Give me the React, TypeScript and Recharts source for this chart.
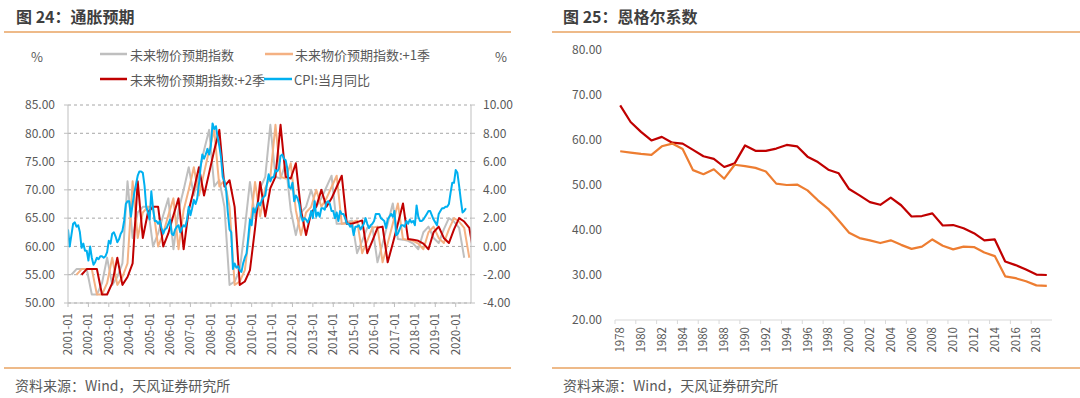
import React from 'react';
import { LineChart, Line, XAxis, YAxis, CartesianGrid } from 'recharts';

// ---------------- data: 图24 通胀预期 ----------------
const MONTH_TICK_LABELS = [
  '2001-01', '2002-01', '2003-01', '2004-01', '2005-01', '2006-01', '2007-01',
  '2008-01', '2009-01', '2010-01', '2011-01', '2012-01', '2013-01', '2014-01',
  '2015-01', '2016-01', '2017-01', '2018-01', '2019-01', '2020-01',
];

// CPI 当月同比, monthly from 2001-01
const CPI_YOY = [
  1.2, 0.0, 0.8, 1.6, 1.7, 1.4, 1.5, 1.0, -0.1, 0.2, -0.3, -0.3,
  -1.0, 0.0, -0.8, -1.3, -1.1, -0.8, -0.9, -0.7, -0.7, -0.8, -0.7, -0.4,
  0.4, 0.2, 0.9, 1.0, 0.7, 0.3, 0.5, 0.9, 1.1, 1.8, 3.0, 3.2,
  3.2, 2.1, 3.0, 3.8, 4.4, 5.0, 5.3, 5.3, 5.2, 4.3, 2.8, 2.4,
  1.9, 3.9, 2.7, 1.8, 1.8, 1.6, 1.8, 1.3, 0.9, 1.2, 1.3, 1.6,
  1.9, 0.9, 0.8, 1.2, 1.4, 1.5, 1.0, 1.3, 1.5, 1.4, 1.9, 2.8,
  2.2, 2.7, 3.3, 3.0, 3.4, 4.4, 5.6, 6.5, 6.2, 6.5, 6.9, 6.5,
  7.1, 8.7, 8.3, 8.5, 7.7, 7.1, 6.3, 4.9, 4.6, 4.0, 2.4, 1.2,
  1.0, -1.6, -1.2, -1.5, -1.4, -1.7, -1.8, -1.2, -0.8, -0.5, 0.6, 1.9,
  1.5, 2.7, 2.4, 2.8, 3.1, 2.9, 3.3, 3.5, 3.6, 4.4, 5.1, 4.6,
  4.9, 4.9, 5.4, 5.3, 5.5, 6.4, 6.5, 6.2, 6.1, 5.5, 4.2, 4.1,
  4.5, 3.2, 3.6, 3.4, 3.0, 2.2, 1.8, 2.0, 1.9, 1.7, 2.0, 2.5,
  2.0, 3.2, 2.1, 2.4, 2.1, 2.7, 2.7, 2.6, 3.1, 3.2, 3.0, 2.5,
  2.5, 2.0, 2.4, 1.8, 2.5, 2.3, 2.3, 2.0, 1.6, 1.6, 1.4, 1.5,
  0.8, 1.4, 1.4, 1.5, 1.2, 1.4, 1.6, 2.0, 1.6, 1.3, 1.5, 1.6,
  1.8, 2.3, 2.3, 2.3, 2.0, 1.9, 1.8, 1.3, 1.9, 2.1, 2.3, 2.1,
  2.5, 0.8, 0.9, 1.2, 1.5, 1.5, 1.4, 1.8, 1.6, 1.9, 1.7, 1.8,
  1.5, 2.9, 2.1, 1.8, 1.8, 1.9, 2.1, 2.3, 2.5, 2.5, 2.2, 1.9,
  1.7, 1.5, 2.3, 2.5, 2.7, 2.7, 2.8, 2.8, 3.0, 3.8, 4.5, 4.5,
  5.4, 5.2, 4.3, 3.3, 2.4, 2.5, 2.7,
];

// 未来物价预期指数, quarterly 2001Q1 .. 2020Q2
const EXPECT_INDEX = [
  55, 56, 56, 56, 51.5, 51.5, 53.5, 58, 53.2, 54.6, 57, 71.5,
  61.5, 66, 67, 67, 60, 62.3, 65.5, 68.5, 59.5, 66.4, 70, 74,
  69, 73, 77, 80.6, 70.6, 71.7, 67, 53.2, 53.8, 55.8, 63.2, 71.4,
  65.3, 70.3, 72.3, 81.5, 72.3, 72, 74.7, 66.4, 62, 66, 67, 70,
  67, 68.5, 70.5, 72.5, 64, 64, 64.3, 64.6, 58.8, 61, 63.3, 63.5,
  57.2, 60.5, 64, 67.6, 61.3, 61.2, 61, 60.5, 59.5, 62.5, 63.5, 61.5,
  60.6, 63, 65, 64.4, 63.3, 58,
];
// 未来物价预期指数:+1季
const EXPECT_INDEX_1Q = [
  55, 56, 56, 56, 51.5, 51.5, 53.5, 58, 53.2, 54.6, 57, 71.5,
  61.5, 66, 67, 67, 60, 62.3, 65.5, 68.5, 59.5, 66.4, 70, 74,
  69, 73, 77, 80.6, 70.6, 71.7, 67, 53.2, 53.8, 55.8, 63.2, 71.4,
  65.3, 70.3, 72.3, 81.5, 72.3, 72, 74.7, 66.4, 62, 66, 67, 70,
  67, 68.5, 70.5, 72.5, 64, 64, 64.3, 64.6, 58.8, 61, 63.3, 63.5,
  57.2, 60.5, 64, 67.6, 61.3, 61.2, 61, 60.5, 59.5, 62.5, 63.5, 61.5,
  60.6, 63, 65, 64.4, 63.3, 58,
];
// 未来物价预期指数:+2季
const EXPECT_INDEX_2Q = [
  55, 56, 56, 56, 51.5, 51.5, 53.5, 58, 53.2, 54.6, 57, 71.5,
  61.5, 66, 67, 67, 60, 62.3, 65.5, 68.5, 59.5, 66.4, 70, 74,
  69, 73, 77, 80.6, 70.6, 71.7, 67, 53.2, 53.8, 55.8, 63.2, 71.4,
  65.3, 70.3, 72.3, 81.5, 72.3, 72, 74.7, 66.4, 62, 66, 67, 70,
  67, 68.5, 70.5, 72.5, 64, 64, 64.3, 64.6, 58.8, 61, 63.3, 63.5,
  57.2, 60.5, 64, 67.6, 61.3, 61.2, 61, 60.5, 59.5, 62.5, 63.5, 61.5,
  60.6, 63, 65, 64.4, 63.3, 58,
];
// month offsets from 2001-01 of each quarterly series' first point
const EXPECT_FIRST_MONTH = 2;    // 2001-03
const EXPECT_1Q_FIRST_MONTH = 5; // 2001-06
const EXPECT_2Q_FIRST_MONTH = 8; // 2001-09
const MONTH_AXIS_END = 237;       // 2020-10

const LEFT_TICKS = [50, 55, 60, 65, 70, 75, 80, 85];
const RIGHT_TICKS = [-4, -2, 0, 2, 4, 6, 8, 10];

// ---------------- data: 图25 恩格尔系数 ----------------
const ENGEL_YEARS = [
  1978, 1979, 1980, 1981, 1982, 1983, 1984, 1985, 1986, 1987, 1988, 1989, 1990, 1991,
  1992, 1993, 1994, 1995, 1996, 1997, 1998, 1999, 2000, 2001, 2002, 2003, 2004, 2005,
  2006, 2007, 2008, 2009, 2010, 2011, 2012, 2013, 2014, 2015, 2016, 2017, 2018, 2019,
];
const ENGEL_RURAL = [
  67.7, 64.0, 61.8, 59.9, 60.7, 59.4, 59.2, 57.8, 56.4, 55.8, 54.0, 54.8, 58.8, 57.6,
  57.6, 58.1, 58.9, 58.6, 56.3, 55.1, 53.4, 52.6, 49.1, 47.7, 46.2, 45.6, 47.2, 45.5,
  43.0, 43.1, 43.7, 41.0, 41.1, 40.4, 39.3, 37.7, 37.9, 33.0, 32.2, 31.2, 30.1, 30.0,
];
const ENGEL_URBAN = [
  57.5, 57.2, 56.9, 56.7, 58.6, 59.2, 58.0, 53.3, 52.4, 53.5, 51.4, 54.5, 54.2, 53.8,
  53.0, 50.3, 50.0, 50.1, 48.8, 46.6, 44.7, 42.1, 39.4, 38.2, 37.7, 37.1, 37.7, 36.7,
  35.8, 36.3, 37.9, 36.5, 35.7, 36.3, 36.2, 35.0, 34.2, 29.7, 29.3, 28.6, 27.7, 27.6,
];
const ENGEL_TICK_LABELS = [
  '1978', '1980', '1982', '1984', '1986', '1988', '1990', '1992', '1994', '1996', '1998',
  '2000', '2002', '2004', '2006', '2008', '2010', '2012', '2014', '2016', '2018',
];
const ENGEL_Y_TICKS = [20, 30, 40, 50, 60, 70, 80];

// ---------------- tables ----------------
type Row = { t: number; cpi?: number; e0?: number; e1?: number; e2?: number };
const rowMap: Record<number, Row> = {};
const put = (t: number, key: keyof Row, v: number) => {
  if (!rowMap[t]) rowMap[t] = { t };
  (rowMap[t] as any)[key] = v;
};
CPI_YOY.forEach((v, i) => put(i, 'cpi', v));
EXPECT_INDEX.forEach((v, k) => put(EXPECT_FIRST_MONTH + 3 * k, 'e0', v));
EXPECT_INDEX_1Q.forEach((v, k) => put(EXPECT_1Q_FIRST_MONTH + 3 * k, 'e1', v));
EXPECT_INDEX_2Q.forEach((v, k) => put(EXPECT_2Q_FIRST_MONTH + 3 * k, 'e2', v));
const leftData = Object.values(rowMap).sort((a, b) => a.t - b.t);
const monthTicks = MONTH_TICK_LABELS.map((_, i) => i * 12);

const engelData = ENGEL_YEARS.map((y, i) => ({ year: y, rural: ENGEL_RURAL[i], urban: ENGEL_URBAN[i] }));
const engelTicks = ENGEL_TICK_LABELS.map((s) => Number(s));

// ---------------- style ----------------
const FONT = '"Noto Sans CJK SC", "Noto Sans", sans-serif';
const TEXT = '#595959';
const AXIS = '#BFBFBF';
const ORANGE_RULE = '#E8A362';
const C_GRAY = '#BFBFBF';
const C_PEACH = '#F4B183';
const C_RED = '#C00000';
const C_BLUE = '#00B0F0';
const C_ORANGE = '#ED7D31';

const ENGEL_PLOT_W = 437;
const HALF_BAND = ENGEL_PLOT_W / ENGEL_YEARS.length / 2;

const MonthTick = (props: any) => {
  const { x, y, payload } = props;
  const label = MONTH_TICK_LABELS[Math.round(payload.value / 12)];
  return (
    <g transform={`translate(${x},${y})`}>
      <line x1={0} x2={0} y1={-10} y2={-6} stroke={AXIS} />
      <text transform="rotate(-90)" x={0} y={0} dy="0.35em" textAnchor="end" fontSize={11.5} fill={TEXT} fontFamily={FONT}>
        {label}
      </text>
    </g>
  );
};

const YearTick = (props: any) => {
  const { x, y, payload } = props;
  const idx = engelTicks.indexOf(payload.value);
  const label = ENGEL_TICK_LABELS[idx] ?? String(payload.value);
  return (
    <g transform={`translate(${x},${y})`}>
      <line x1={-HALF_BAND} x2={-HALF_BAND} y1={-7} y2={-3} stroke="#D9D9D9" />
      <text transform="rotate(-90)" x={0} y={0} dy="0.35em" textAnchor="end" fontSize={11.5} fill={TEXT} fontFamily={FONT}>
        {label}
      </text>
    </g>
  );
};

const fmt2 = (v: number) => v.toFixed(2);

export default function App() {
  const tickStyle = { fontSize: 12, fill: TEXT, fontFamily: FONT };
  return (
    <div
      style={{
        position: 'absolute', left: 0, top: 0, width: 1080, height: 398,
        background: '#fff', overflow: 'hidden', fontFamily: FONT,
      }}
    >
      <div style={{ position: 'absolute', left: 0, top: 0 }}>
        <LineChart width={540} height={398} data={leftData} margin={{ top: 105, right: 24, bottom: 35, left: 0 }}>
          <CartesianGrid yAxisId="left" horizontal vertical={false} stroke="#A6A6A6" strokeDasharray="3 3" />
          <XAxis
            dataKey="t"
            type="number"
            domain={[0, MONTH_AXIS_END]}
            ticks={monthTicks}
            interval={0}
            allowDataOverflow
            height={60}
            tickMargin={4}
            tickLine={false}
            axisLine={{ stroke: AXIS }}
            tick={<MonthTick />}
          />
          <YAxis
            yAxisId="left"
            domain={[50, 85]}
            ticks={LEFT_TICKS}
            interval={0}
            width={68}
            tickSize={4}
            tickMargin={9}
            tickLine={{ stroke: AXIS }}
            axisLine={{ stroke: AXIS }}
            tick={tickStyle}
            tickFormatter={fmt2}
          />
          <YAxis
            yAxisId="right"
            orientation="right"
            domain={[-4, 10]}
            ticks={RIGHT_TICKS}
            interval={0}
            width={45}
            tickSize={4}
            tickMargin={8}
            tickLine={{ stroke: AXIS }}
            axisLine={{ stroke: AXIS }}
            tick={{ ...tickStyle, textAnchor: 'start' }}
            tickFormatter={fmt2}
          />
          <Line yAxisId="left" dataKey="e0" stroke={C_GRAY} strokeWidth={2} dot={false} connectNulls isAnimationActive={false} strokeLinejoin="round" />
          <Line yAxisId="left" dataKey="e1" stroke={C_PEACH} strokeWidth={2} dot={false} connectNulls isAnimationActive={false} strokeLinejoin="round" />
          <Line yAxisId="left" dataKey="e2" stroke={C_RED} strokeWidth={2} dot={false} connectNulls isAnimationActive={false} strokeLinejoin="round" />
          <Line yAxisId="right" dataKey="cpi" stroke={C_BLUE} strokeWidth={2} dot={false} connectNulls isAnimationActive={false} strokeLinejoin="round" />
        </LineChart>
      </div>

      <div style={{ position: 'absolute', left: 540, top: 0 }}>
        <LineChart width={540} height={398} data={engelData} margin={{ top: 50, right: 28, bottom: 38, left: 0 }}>
          <XAxis
            dataKey="year"
            type="number"
            domain={[ENGEL_YEARS[0] - 0.5, ENGEL_YEARS[ENGEL_YEARS.length - 1] + 0.5]}
            ticks={engelTicks}
            interval={0}
            height={40}
            tickMargin={1}
            tickLine={false}
            axisLine={{ stroke: '#D9D9D9' }}
            tick={<YearTick />}
          />
          <YAxis
            domain={[20, 80]}
            ticks={ENGEL_Y_TICKS}
            interval={0}
            width={75}
            tickMargin={7}
            tickLine={false}
            axisLine={false}
            tick={tickStyle}
            tickFormatter={fmt2}
          />
          <Line dataKey="rural" stroke={C_RED} strokeWidth={2.2} dot={false} isAnimationActive={false} strokeLinejoin="round" />
          <Line dataKey="urban" stroke={C_ORANGE} strokeWidth={2.2} dot={false} isAnimationActive={false} strokeLinejoin="round" />
        </LineChart>
      </div>

      <svg width={1080} height={398} style={{ position: 'absolute', left: 0, top: 0, pointerEvents: 'none' }}>
        {/* titles */}
        <text x={16} y={16} dominantBaseline="central" fontSize={16} fontWeight="bold" fill="#3F3F3F" fontFamily={FONT}>图 24：通胀预期</text>
        <text x={563} y={16} dominantBaseline="central" fontSize={16} fontWeight="bold" fill="#3F3F3F" fontFamily={FONT}>图 25：恩格尔系数</text>
        {/* rules */}
        <line x1={4} x2={511} y1={32} y2={32} stroke={ORANGE_RULE} strokeWidth={1.5} />
        <line x1={552} x2={1080} y1={32} y2={32} stroke={ORANGE_RULE} strokeWidth={1.5} />
        <line x1={4} x2={511} y1={368} y2={368} stroke={ORANGE_RULE} strokeWidth={1.5} />
        <line x1={552} x2={1080} y1={368} y2={368} stroke={ORANGE_RULE} strokeWidth={1.5} />
        {/* sources */}
        <text x={15} y={385} dominantBaseline="central" fontSize={14} fill={TEXT} fontFamily={FONT}>资料来源：Wind，天风证券研究所</text>
        <text x={563} y={385} dominantBaseline="central" fontSize={14} fill={TEXT} fontFamily={FONT}>资料来源：Wind，天风证券研究所</text>
        {/* units */}
        <text x={31} y={56} dominantBaseline="central" fontSize={13} fill={TEXT} fontFamily={FONT}>%</text>
        <text x={495} y={56} dominantBaseline="central" fontSize={13} fill={TEXT} fontFamily={FONT}>%</text>
        {/* legend */}
        <line x1={100} x2={127} y1={54} y2={54} stroke={C_GRAY} strokeWidth={2.5} />
        <text x={130} y={54} dominantBaseline="central" fontSize={13} fill={TEXT} fontFamily={FONT}>未来物价预期指数</text>
        <line x1={265} x2={293} y1={54} y2={54} stroke={C_PEACH} strokeWidth={2.5} />
        <text x={295} y={54} dominantBaseline="central" fontSize={13} fill={TEXT} fontFamily={FONT}>未来物价预期指数:+1季</text>
        <line x1={100} x2={127} y1={79} y2={79} stroke={C_RED} strokeWidth={2.5} />
        <text x={130} y={79} dominantBaseline="central" fontSize={13} fill={TEXT} fontFamily={FONT}>未来物价预期指数:+2季</text>
        <line x1={264} x2={292} y1={79} y2={79} stroke={C_BLUE} strokeWidth={2.5} />
        <text x={294} y={79} dominantBaseline="central" fontSize={13} fill={TEXT} fontFamily={FONT}>CPI:当月同比</text>
      </svg>
    </div>
  );
}
